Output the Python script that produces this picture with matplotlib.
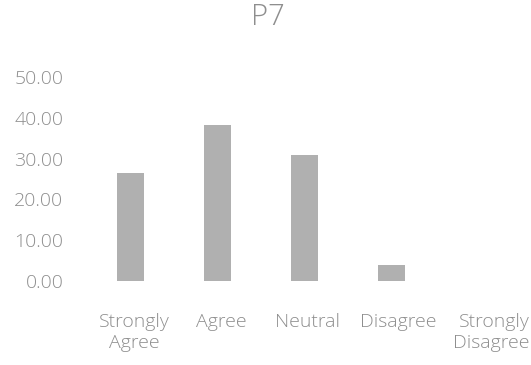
import matplotlib
matplotlib.use("Agg")
import matplotlib.pyplot as plt
from matplotlib.transforms import ScaledTranslation

categories = ["Strongly\nAgree", "Agree", "Neutral", "Disagree", "Strongly\nDisagree"]
values = [26.5, 38.2, 30.9, 4.0, 0.0]
yticks = [0, 10, 20, 30, 40, 50]
title = "P7"

plt.rcParams['font.family'] = ['Open Sans', 'DejaVu Sans']
txt = "#8e8e8e"

fig = plt.figure(figsize=(5.31, 3.65), dpi=100)
ax = fig.add_axes([0.164, 0.230, 0.819, 0.559])
x = range(len(categories))
ax.bar(x, values, width=0.31, color="#b0b0b0")
ax.set_ylim(0, 50)
ax.set_xlim(-0.5, len(categories) - 0.5)
ax.set_yticks(yticks)
ax.set_yticklabels([f"{v:.2f}" for v in yticks])
ax.set_xticks(list(x))
ax.set_xticklabels(categories, linespacing=1.2)
for s in ax.spines.values():
    s.set_visible(False)
ax.tick_params(axis='both', length=0, colors=txt)
ax.tick_params(axis='y', pad=17, labelsize=14)
ax.tick_params(axis='x', pad=23, labelsize=14)
for lab in ax.get_yticklabels() + ax.get_xticklabels():
    lab.set_fontweight('light')
xl = ax.get_xticklabels()
offs = [4, 4, 3, 7, 13]
for lab, o in zip(xl, offs):
    lab.set_transform(lab.get_transform() + ScaledTranslation(o / 100, 0, fig.dpi_scale_trans))
xl[-1].set_multialignment('right')
fig.text(0.505, 0.952, title, ha='center', va='center', fontsize=21, color=txt, fontweight='light')
fig.savefig("out.png", dpi=100)
